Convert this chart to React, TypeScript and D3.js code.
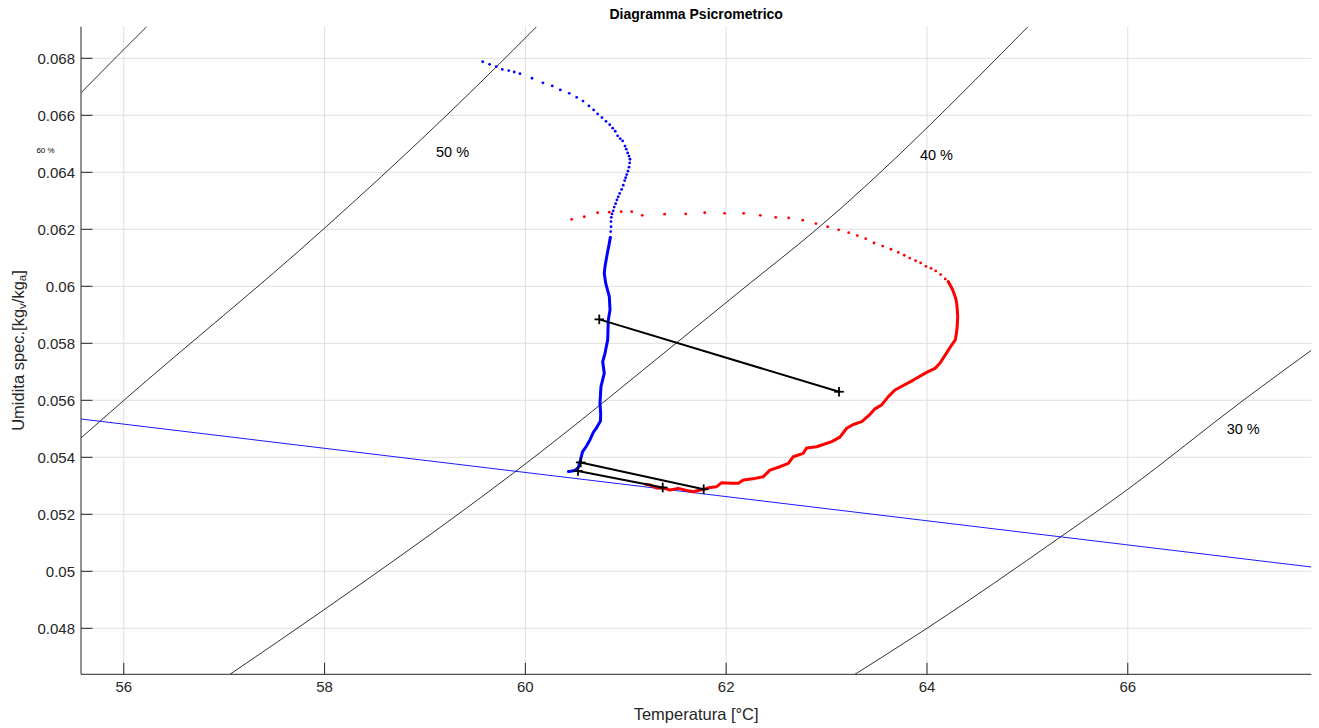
import React from "react";
import * as d3 from "d3";

// ---- axes ----
const xDomain = [55.574, 67.828];
const yDomain = [0.046386, 0.069109];
const xTicks = [56, 58, 60, 62, 64, 66];
const xTickLabels = ["56", "58", "60", "62", "64", "66"];
const yTicks = [0.048, 0.05, 0.052, 0.054, 0.056, 0.058, 0.06, 0.062, 0.064, 0.066, 0.068];
const yTickLabels = ["0.048", "0.05", "0.052", "0.054", "0.056", "0.058", "0.06", "0.062", "0.064", "0.066", "0.068"];

// ---- relative humidity curves [T, w] ----
const rh60: [number, number][] = [[55.574, 0.06679], [55.995, 0.06829], [56.228, 0.06911]];
const rh50: [number, number][] = [[55.574, 0.05468], [55.995, 0.05598], [57.987, 0.062], [59.149, 0.065775], [59.88, 0.068291], [60.112, 0.069109]];
const rh40: [number, number][] = [[57.058, 0.046386], [57.991, 0.048642], [60.145, 0.054161], [61.507, 0.058021], [62.187, 0.059965], [62.901, 0.062], [65.006, 0.069109]];
const rh30: [number, number][] = [[63.283, 0.046386], [64.0, 0.048], [65.325, 0.051193], [66.0, 0.052877], [67.15, 0.056], [67.828, 0.057754]];
const rhLabels = ["60 %", "50 %", "40 %", "30 %"];
const rhLabelPos: [number, number][] = [[55.13, 0.06476], [59.11, 0.06471], [63.93, 0.06461], [66.985, 0.05498]];
const rhLabelSize = [8, 14.5, 14.5, 14.5];

// ---- straight blue reference line ----
const blueLine: [number, number][] = [[55.574, 0.055344], [67.828, 0.050151]];

// ---- blue trail (sparse dots then dense trace) ----
const blueDots: [number, number][] = [
  [59.575, 0.06788], [59.644, 0.06779], [59.71, 0.06771], [59.77, 0.06761], [59.834, 0.06757], [59.889, 0.06752],
  [59.946, 0.06746], [60.066, 0.0673], [60.175, 0.06714], [60.268, 0.06703], [60.348, 0.06689], [60.437, 0.06677],
  [60.511, 0.06663], [60.574, 0.0665], [60.633, 0.06633], [60.68, 0.06619], [60.72, 0.06605], [60.763, 0.06592],
  [60.803, 0.06579], [60.84, 0.06567], [60.87, 0.06555], [60.895, 0.06544], [60.919, 0.06528], [60.945, 0.06518],
  [60.969, 0.0651], [60.992, 0.06492], [61.005, 0.06481], [61.019, 0.06468], [61.032, 0.06457], [61.042, 0.06446],
  [61.039, 0.06433], [61.032, 0.06418], [61.022, 0.06404], [61.009, 0.06392], [60.999, 0.06381], [60.989, 0.06371],
  [60.975, 0.06355], [60.959, 0.0634], [60.939, 0.06326], [60.925, 0.06314], [60.912, 0.06303], [60.899, 0.0629],
  [60.885, 0.06278], [60.875, 0.06265], [60.863, 0.06254], [60.856, 0.06242], [60.853, 0.06227], [60.853, 0.06209],
  [60.85, 0.06192], [60.846, 0.06171],
];
const blueTrace: [number, number][] = [
  [60.846, 0.06171], [60.836, 0.06151], [60.81, 0.06104], [60.793, 0.06069], [60.786, 0.06046], [60.8, 0.06011],
  [60.836, 0.05964], [60.843, 0.05917], [60.826, 0.05882], [60.82, 0.05812], [60.793, 0.05765], [60.77, 0.05735],
  [60.786, 0.05695], [60.753, 0.05648], [60.743, 0.05589], [60.75, 0.05554], [60.748, 0.05527], [60.713, 0.05506],
  [60.676, 0.05487], [60.643, 0.05461], [60.604, 0.05437], [60.569, 0.05419], [60.549, 0.05391], [60.527, 0.05364],
  [60.494, 0.05354], [60.449, 0.05351], [60.429, 0.0535],
];

// ---- red trail ----
const redDots: [number, number][] = [
  [60.461, 0.06235], [60.587, 0.06244], [60.72, 0.06258], [60.836, 0.0626], [60.955, 0.06262], [61.059, 0.06262],
  [61.164, 0.06249], [61.387, 0.06253], [61.597, 0.06254], [61.786, 0.06258], [61.985, 0.06256], [62.174, 0.06256],
  [62.34, 0.06249], [62.493, 0.06242], [62.623, 0.0624], [62.762, 0.06232], [62.894, 0.0622], [63.011, 0.06209],
  [63.121, 0.06198], [63.22, 0.06188], [63.306, 0.06178], [63.39, 0.06167], [63.472, 0.06152], [63.559, 0.06141],
  [63.641, 0.0613], [63.714, 0.06119], [63.774, 0.06109], [63.828, 0.06099], [63.887, 0.0609], [63.937, 0.06082],
  [63.99, 0.0607], [64.04, 0.06063], [64.087, 0.06054], [64.136, 0.06041], [64.182, 0.06026], [64.212, 0.06016],
];
const redTrace: [number, number][] = [
  [64.212, 0.06016], [64.236, 0.06001], [64.256, 0.05987], [64.272, 0.05972], [64.286, 0.05958], [64.296, 0.0594],
  [64.302, 0.05917], [64.306, 0.05893], [64.302, 0.05864], [64.296, 0.05841], [64.282, 0.05812], [64.246, 0.05794],
  [64.202, 0.0577], [64.129, 0.0573], [64.08, 0.05712], [63.997, 0.05698], [63.864, 0.05671], [63.764, 0.05652],
  [63.681, 0.05636], [63.615, 0.05613], [63.549, 0.05584], [63.482, 0.0557], [63.422, 0.05547], [63.35, 0.05525],
  [63.266, 0.05515], [63.2, 0.05502], [63.133, 0.05471], [63.051, 0.05455], [62.901, 0.05437], [62.802, 0.05433],
  [62.768, 0.05414], [62.668, 0.05402], [62.619, 0.05379], [62.536, 0.05367], [62.436, 0.05355], [62.37, 0.05332],
  [62.287, 0.05326], [62.17, 0.0532], [62.121, 0.05309], [62.055, 0.05309], [61.955, 0.05311], [61.905, 0.05297],
  [61.839, 0.05294], [61.789, 0.05289], [61.739, 0.05285], [61.672, 0.05279], [61.606, 0.05284], [61.523, 0.05291],
  [61.44, 0.05285], [61.373, 0.05293], [61.308, 0.05292], [61.241, 0.05303], [61.201, 0.05305],
];

// ---- black process segments ----
const processLines: [number, number][][] = [
  [[60.736, 0.05884], [63.124, 0.0563]],
  [[60.551, 0.05382], [61.776, 0.05288]],
  [[60.524, 0.05352], [61.368, 0.05294]],
];

const W = 1319;
const H = 728;
const FONT = "'Liberation Sans', Arial, Helvetica, sans-serif";
const TXT = "#262626";

export default function App() {
  const x = d3.scaleLinear().domain(xDomain).range([81, 1311.3]);
  const y = d3.scaleLinear().domain(yDomain).range([674.3, 26.7]);
  const [x0, x1] = x.range();
  const [y0, y1] = y.range();

  const curve = d3.line<[number, number]>().x((d) => x(d[0])).y((d) => y(d[1])).curve(d3.curveMonotoneX);
  const straight = d3.line<[number, number]>().x((d) => x(d[0])).y((d) => y(d[1]));

  const tick = 11.5;
  const plus = 4.8;

  return (
    <div style={{ position: "absolute", left: 0, top: 0 }}>
      <svg width={W} height={H} style={{ display: "block", background: "#fff" }}>
        <defs>
          <clipPath id="plotClip">
            <rect x={x0} y={y1} width={x1 - x0} height={y0 - y1} />
          </clipPath>
        </defs>
        <rect x={0} y={0} width={W} height={H} fill="#fff" />

        {/* grid */}
        <g stroke="#dfdfdf" strokeWidth={1}>
          {xTicks.map((t) => (
            <line key={"gx" + t} x1={x(t)} x2={x(t)} y1={y1} y2={y0} />
          ))}
          {yTicks.map((t) => (
            <line key={"gy" + t} x1={x0} x2={x1} y1={y(t)} y2={y(t)} />
          ))}
        </g>

        <g clipPath="url(#plotClip)">
          {[rh60, rh50, rh40, rh30].map((c, i) => (
            <path key={"rh" + i} d={curve(c) || ""} fill="none" stroke="#1a1a1a" strokeWidth={0.9} />
          ))}
          <path d={straight(blueLine) || ""} fill="none" stroke="#0000ff" strokeWidth={0.9} />

          {/* blue trail */}
          <path d={straight(blueTrace) || ""} fill="none" stroke="#0000ff" strokeWidth={3} strokeLinejoin="round" strokeLinecap="round" />
          {blueDots.map((d, i) => (
            <circle key={"bd" + i} cx={x(d[0])} cy={y(d[1])} r={1.4} fill="#0000ff" />
          ))}

          {/* red trail */}
          <path d={straight(redTrace) || ""} fill="none" stroke="#ff0000" strokeWidth={3} strokeLinejoin="round" strokeLinecap="round" />
          {redDots.map((d, i) => (
            <circle key={"rd" + i} cx={x(d[0])} cy={y(d[1])} r={1.4} fill="#ff0000" />
          ))}

          {/* process lines */}
          {processLines.map((seg, i) => (
            <g key={"pl" + i}>
              <path d={straight(seg) || ""} fill="none" stroke="#000" strokeWidth={2} />
              {seg.map((p, j) => (
                <g key={j} stroke="#000" strokeWidth={1.8}>
                  <line x1={x(p[0]) - plus} x2={x(p[0]) + plus} y1={y(p[1])} y2={y(p[1])} />
                  <line x1={x(p[0])} x2={x(p[0])} y1={y(p[1]) - plus} y2={y(p[1]) + plus} />
                </g>
              ))}
            </g>
          ))}
        </g>

        {/* RH labels */}
        {rhLabels.map((l, i) => (
          <text
            key={"lab" + i}
            x={x(rhLabelPos[i][0])}
            y={y(rhLabelPos[i][1])}
            dominantBaseline="central"
            fontFamily={FONT}
            fontSize={rhLabelSize[i]}
            fill="#000"
          >
            {l}
          </text>
        ))}

        {/* axes */}
        <g stroke={TXT} strokeWidth={1}>
          <line x1={x0} x2={x1} y1={y0} y2={y0} />
          <line x1={x0} x2={x0} y1={y0} y2={y1} />
          {xTicks.map((t) => (
            <line key={"tx" + t} x1={x(t)} x2={x(t)} y1={y0} y2={y0 - tick} />
          ))}
          {yTicks.map((t) => (
            <line key={"ty" + t} x1={x0} x2={x0 + tick} y1={y(t)} y2={y(t)} />
          ))}
        </g>
        <g fontFamily={FONT} fontSize={15} fill={TXT}>
          {xTicks.map((t, i) => (
            <text key={"xl" + t} x={x(t)} y={y0 + 12} textAnchor="middle" dominantBaseline="central">
              {xTickLabels[i]}
            </text>
          ))}
          {yTicks.map((t, i) => (
            <text key={"yl" + t} x={x0 - 6} y={y(t)} textAnchor="end" dominantBaseline="central">
              {yTickLabels[i]}
            </text>
          ))}
        </g>

        {/* axis labels & title */}
        <text x={(x0 + x1) / 2} y={714} textAnchor="middle" dominantBaseline="central" fontFamily={FONT} fontSize={16.5} fill={TXT}>
          Temperatura [°C]
        </text>
        <text
          transform={`translate(18,${(y0 + y1) / 2}) rotate(-90)`}
          textAnchor="middle"
          dominantBaseline="central"
          fontFamily={FONT}
          fontSize={16.5}
          fill={TXT}
        >
          Umidita spec.[kg
          <tspan fontSize={11.5} dy={4}>v</tspan>
          <tspan dy={-4}>/kg</tspan>
          <tspan fontSize={11.5} dy={4}>a</tspan>
          <tspan dy={-4}>]</tspan>
        </text>
        <text x={(x0 + x1) / 2} y={14} textAnchor="middle" dominantBaseline="central" fontFamily={FONT} fontSize={14} fontWeight="bold" fill="#000">
          Diagramma Psicrometrico
        </text>
      </svg>
    </div>
  );
}
